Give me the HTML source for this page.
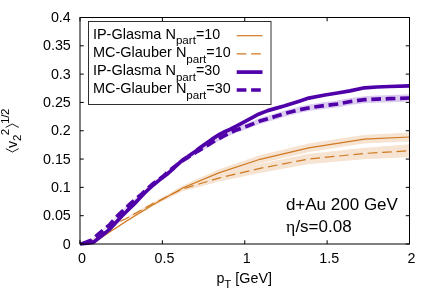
<!DOCTYPE html>
<html><head><meta charset="utf-8"><title>plot</title>
<style>
html,body{margin:0;padding:0;background:#fff;}
svg{display:block;will-change:transform;}
text{font-family:"Liberation Sans",sans-serif;font-size:14.3px;fill:#000;}
text.sym{font-family:"Liberation Serif",serif;}
</style></head>
<body>
<svg width="436" height="305" viewBox="0 0 436 305">
<rect width="436" height="305" fill="#fff"/>
<polygon points="80.00,243.80 84.00,243.38 88.00,242.96 92.00,242.54 94.50,242.28 96.00,241.13 100.00,238.05 101.00,237.29 104.00,235.22 108.00,232.47 110.80,230.54 112.00,229.76 116.00,227.16 119.00,225.22 120.00,224.54 124.00,221.80 125.80,220.56 128.00,219.15 132.00,216.59 136.00,214.03 140.00,211.46 144.00,208.90 148.00,206.33 151.70,203.95 152.00,203.78 156.00,201.41 160.00,199.04 164.00,196.67 168.00,194.30 172.00,191.93 176.00,189.56 180.00,187.19 183.20,185.29 184.00,184.94 188.00,183.14 192.00,181.35 196.00,179.56 200.00,177.77 204.00,175.98 208.00,174.19 212.00,172.40 216.00,170.61 218.75,169.39 220.00,168.96 224.00,167.58 228.00,166.21 232.00,164.83 236.00,163.46 240.00,162.08 244.00,160.70 248.00,159.33 252.00,157.95 256.00,156.58 260.00,155.20 264.00,154.24 268.00,153.28 272.00,152.32 276.00,151.36 280.00,150.40 284.00,149.44 288.00,148.48 292.00,147.52 296.00,146.56 300.00,145.60 304.00,144.64 308.00,143.68 308.75,143.50 312.00,142.99 316.00,142.37 320.00,141.74 324.00,141.12 328.00,140.50 332.00,139.87 336.00,139.25 340.00,138.62 344.00,138.00 348.00,137.37 352.00,136.75 356.00,136.13 360.00,135.50 364.00,134.88 364.50,134.80 368.00,134.63 372.00,134.43 376.00,134.24 380.00,134.04 384.00,133.85 388.00,133.65 392.00,133.46 396.00,133.26 400.00,133.06 404.00,132.87 408.00,132.67 409.50,132.60 409.50,141.40 408.00,141.47 404.00,141.64 400.00,141.82 396.00,142.00 392.00,142.18 388.00,142.36 384.00,142.53 380.00,142.71 376.00,142.89 372.00,143.07 368.00,143.25 364.50,143.40 364.00,143.48 360.00,144.10 356.00,144.73 352.00,145.35 348.00,145.97 344.00,146.60 340.00,147.22 336.00,147.85 332.00,148.47 328.00,149.10 324.00,149.72 320.00,150.34 316.00,150.97 312.00,151.59 308.75,152.10 308.00,152.28 304.00,153.20 300.00,154.13 296.00,155.06 292.00,155.98 288.00,156.91 284.00,157.84 280.00,158.77 276.00,159.69 272.00,160.62 268.00,161.55 264.00,162.47 260.00,163.40 256.00,164.66 252.00,165.92 248.00,167.18 244.00,168.45 240.00,169.71 236.00,170.97 232.00,172.23 228.00,173.49 224.00,174.75 220.00,176.02 218.75,176.41 216.00,177.48 212.00,179.02 208.00,180.56 204.00,182.10 200.00,183.64 196.00,185.18 192.00,186.72 188.00,188.26 184.00,189.80 183.20,190.11 180.00,191.83 176.00,193.98 172.00,196.13 168.00,198.28 164.00,200.43 160.00,202.58 156.00,204.73 152.00,206.89 151.70,207.05 148.00,209.24 144.00,211.62 140.00,213.99 136.00,216.37 132.00,218.75 128.00,221.13 125.80,222.44 124.00,223.58 120.00,226.14 119.00,226.78 116.00,228.64 112.00,231.12 110.80,231.86 108.00,233.71 104.00,236.34 101.00,238.31 100.00,239.05 96.00,242.01 94.50,243.12 92.00,243.30 88.00,243.60 84.00,243.90 80.00,244.20" fill="#f6e3d2"/>
<polygon points="80.00,243.80 84.00,243.07 88.00,242.35 89.00,242.16 92.00,240.07 96.00,237.29 100.00,234.50 104.00,231.66 108.00,228.82 110.80,226.84 112.00,226.00 116.00,223.21 119.00,221.12 120.00,220.63 124.00,218.65 125.80,217.76 128.00,216.49 132.00,214.17 136.00,211.86 140.00,209.54 144.00,207.22 148.00,204.90 151.70,202.75 152.00,202.60 156.00,200.51 160.00,198.42 164.00,196.33 168.00,194.24 172.00,192.15 176.00,190.06 180.00,187.97 183.20,186.29 184.00,186.03 188.00,184.71 192.00,183.39 196.00,182.07 200.00,180.76 204.00,179.44 208.00,178.12 212.00,176.80 216.00,175.48 218.75,174.58 220.00,174.25 224.00,173.20 228.00,172.15 232.00,171.10 236.00,170.05 240.00,169.00 244.00,167.95 248.00,166.90 252.00,165.85 256.00,164.80 260.00,163.75 264.00,162.94 268.00,162.13 272.00,161.32 276.00,160.51 280.00,159.71 284.00,158.90 288.00,158.09 292.00,157.28 296.00,156.47 300.00,155.66 304.00,154.85 308.00,154.04 308.75,153.89 312.00,153.53 316.00,153.09 320.00,152.65 324.00,152.21 328.00,151.77 332.00,151.33 336.00,150.89 340.00,150.45 344.00,150.01 348.00,149.56 352.00,149.12 356.00,148.68 360.00,148.24 364.00,147.80 364.50,147.74 368.00,147.48 372.00,147.18 376.00,146.88 380.00,146.57 384.00,146.27 388.00,145.97 392.00,145.67 396.00,145.37 400.00,145.07 404.00,144.76 408.00,144.46 409.50,144.35 409.50,157.15 408.00,157.22 404.00,157.40 400.00,157.57 396.00,157.75 392.00,157.93 388.00,158.11 384.00,158.29 380.00,158.47 376.00,158.64 372.00,158.82 368.00,159.00 364.50,159.16 364.00,159.20 360.00,159.56 356.00,159.91 352.00,160.27 348.00,160.62 344.00,160.98 340.00,161.33 336.00,161.69 332.00,162.04 328.00,162.40 324.00,162.75 320.00,163.11 316.00,163.46 312.00,163.82 308.75,164.11 308.00,164.24 304.00,164.97 300.00,165.69 296.00,166.42 292.00,167.15 288.00,167.87 284.00,168.60 280.00,169.32 276.00,170.05 272.00,170.77 268.00,171.50 264.00,172.22 260.00,172.95 256.00,173.79 252.00,174.63 248.00,175.47 244.00,176.31 240.00,177.15 236.00,177.99 232.00,178.83 228.00,179.68 224.00,180.52 220.00,181.36 218.75,181.62 216.00,182.36 212.00,183.42 208.00,184.49 204.00,185.56 200.00,186.63 196.00,187.69 192.00,188.76 188.00,189.83 184.00,190.89 183.20,191.11 180.00,192.60 176.00,194.47 172.00,196.35 168.00,198.22 164.00,200.09 160.00,201.96 156.00,203.83 152.00,205.71 151.70,205.85 148.00,207.81 144.00,209.94 140.00,212.07 136.00,214.20 132.00,216.33 128.00,218.46 125.80,219.64 124.00,220.44 120.00,222.23 119.00,222.69 116.00,224.69 112.00,227.36 110.80,228.16 108.00,230.06 104.00,232.78 100.00,235.50 96.00,238.17 92.00,240.83 89.00,242.84 88.00,242.99 84.00,243.59 80.00,244.20" fill="#f6e3d2"/>
<polygon points="80.00,243.70 84.00,242.52 86.00,241.92 88.00,241.11 91.10,239.86 92.00,239.10 93.75,237.62 96.00,235.65 99.25,232.80 100.00,232.17 104.00,228.79 108.00,225.37 110.05,223.61 112.00,221.36 113.90,219.16 116.00,216.82 117.80,214.81 120.00,212.64 121.70,210.96 124.00,208.81 125.70,207.21 128.00,205.06 129.60,203.56 132.00,201.43 133.60,200.01 136.00,197.78 140.00,194.41 142.50,192.30 144.00,190.82 146.40,188.45 148.00,186.98 152.00,183.29 153.30,182.09 156.00,180.21 158.00,178.81 160.00,177.24 163.60,174.41 164.00,174.04 166.40,171.81 168.00,170.47 171.90,167.21 172.00,167.13 175.80,163.99 176.00,163.85 180.00,160.92 183.70,158.21 184.00,158.02 187.60,155.74 188.00,155.46 190.00,154.09 192.00,152.81 196.00,150.23 197.50,149.26 200.00,147.73 204.00,145.28 207.75,142.98 208.00,142.81 211.70,140.31 212.00,140.14 216.00,137.86 220.00,135.58 224.00,133.31 228.00,131.33 232.00,129.35 235.00,127.86 236.00,127.48 240.00,125.99 244.00,124.49 247.50,123.18 248.00,122.98 252.00,121.35 256.00,119.73 260.00,118.10 264.00,116.87 268.00,115.65 272.00,114.42 275.00,113.51 276.00,113.20 280.00,111.95 284.00,110.71 287.50,109.63 288.00,109.50 292.00,108.45 296.00,107.40 300.00,106.35 304.00,105.56 308.00,104.76 312.00,103.98 312.50,103.88 316.00,103.40 320.00,102.84 324.00,102.28 325.00,102.14 328.00,101.77 332.00,101.27 336.00,100.78 337.50,100.59 340.00,100.12 344.00,99.36 348.00,98.60 352.00,97.84 356.00,97.32 360.00,96.79 364.00,96.26 364.50,96.20 368.00,96.01 372.00,95.80 376.00,95.60 377.00,95.54 380.00,95.43 384.00,95.29 388.00,95.14 389.50,95.09 392.00,94.99 396.00,94.83 400.00,94.67 404.00,94.52 408.00,94.36 409.50,94.30 409.50,101.70 408.00,101.75 404.00,101.87 400.00,101.99 396.00,102.11 392.00,102.24 389.50,102.31 388.00,102.35 384.00,102.46 380.00,102.57 377.00,102.66 376.00,102.70 372.00,102.88 368.00,103.05 364.50,103.20 364.00,103.26 360.00,103.76 356.00,104.26 352.00,104.76 348.00,105.49 344.00,106.22 340.00,106.95 337.50,107.41 336.00,107.58 332.00,108.05 328.00,108.51 325.00,108.86 324.00,108.99 320.00,109.52 316.00,110.05 312.50,110.52 312.00,110.61 308.00,111.36 304.00,112.11 300.00,112.85 296.00,113.85 292.00,114.85 288.00,115.85 287.50,115.97 284.00,117.01 280.00,118.20 276.00,119.40 275.00,119.69 272.00,120.58 268.00,121.75 264.00,122.92 260.00,124.10 256.00,125.61 252.00,127.12 248.00,128.63 247.50,128.82 244.00,130.03 240.00,131.41 236.00,132.80 235.00,133.14 232.00,134.55 228.00,136.42 224.00,138.29 220.00,140.44 216.00,142.59 212.00,144.73 211.70,144.89 208.00,147.26 207.75,147.42 204.00,149.58 200.00,151.89 197.50,153.34 196.00,154.25 192.00,156.69 190.00,157.91 188.00,159.20 187.60,159.46 184.00,161.62 183.70,161.79 180.00,164.38 176.00,167.17 175.80,167.31 172.00,170.31 171.90,170.39 168.00,173.51 166.40,174.79 164.00,176.93 163.60,177.29 160.00,179.99 158.00,181.49 156.00,182.82 153.30,184.61 152.00,185.76 148.00,189.33 146.40,190.75 144.00,193.06 142.50,194.50 140.00,196.55 136.00,199.82 133.60,201.99 132.00,203.37 129.60,205.44 128.00,206.89 125.70,208.99 124.00,210.54 121.70,212.64 120.00,214.27 117.80,216.39 116.00,218.35 113.90,220.64 112.00,222.78 110.05,224.99 108.00,226.69 104.00,230.01 100.00,233.28 99.25,233.90 96.00,236.66 93.75,238.58 92.00,240.01 91.10,240.74 88.00,241.92 86.00,242.68 84.00,243.22 80.00,244.30" fill="#dccdf0"/>
<polyline points="80.00,244.00 94.50,242.70 101.00,237.80 110.80,231.20 119.00,226.00 125.80,221.50 151.70,205.50 183.20,187.70 218.75,172.90 260.00,159.30 308.75,147.80 364.50,139.10 409.50,137.00" fill="none" stroke="#cf7a21" stroke-width="1.2"/>
<polyline points="80.00,244.00 89.00,242.50 100.00,235.00 110.80,227.50 119.00,221.90 125.80,218.70 151.70,204.30 183.20,188.70 218.75,178.10 260.00,168.35 308.75,159.00 364.50,153.45 409.50,150.75" fill="none" stroke="#cf7a21" stroke-width="1.2" stroke-dasharray="9.7 4.7" stroke-dashoffset="-3.8"/>
<polyline points="80.00,244.00 87.40,243.15 93.30,242.40 101.60,235.70 105.60,232.55 110.05,228.85 121.70,216.30 125.70,212.30 129.60,208.40 133.60,204.60 138.00,200.00 141.70,196.00 143.90,193.70 147.80,190.00 151.70,186.40 155.70,183.00 159.60,179.85 163.60,176.75 168.00,173.45 172.30,169.65 175.80,166.25 179.75,162.55 183.70,159.30 187.60,156.75 191.55,154.00 196.00,151.00 199.90,147.80 203.80,145.00 207.75,142.20 211.70,139.40 215.60,136.85 219.55,134.45 224.00,132.00 229.90,129.50 237.75,125.40 245.70,121.20 254.00,116.70 258.50,114.20 267.75,110.60 275.60,108.40 284.00,106.00 300.00,101.00 308.75,98.10 325.00,95.00 337.50,93.00 350.00,90.90 364.50,87.80 377.00,87.00 389.50,86.50 409.50,85.80" fill="none" stroke="#5000a8" stroke-width="3.7" stroke-linejoin="round"/>
<polyline points="80.00,244.00 86.00,242.30 91.10,240.30 93.75,238.10 99.25,233.35 104.00,229.40 110.05,224.30 113.90,219.90 117.80,215.60 121.70,211.80 125.70,208.10 129.60,204.50 133.60,201.00 136.00,198.80 142.50,193.40 146.40,189.60 153.30,183.35 158.00,180.15 163.60,175.85 166.40,173.30 171.90,168.80 175.80,165.65 183.70,160.00 187.60,157.60 190.00,156.00 197.50,151.30 207.75,145.20 211.70,142.60 224.00,135.80 235.00,130.50 247.50,126.00 260.00,121.10 275.00,116.60 287.50,112.80 300.00,109.60 312.50,107.20 325.00,105.50 337.50,104.00 352.00,101.30 364.50,99.70 377.00,99.10 389.50,98.70 409.50,98.00" fill="none" stroke="#5000a8" stroke-width="3.7" stroke-dasharray="9.7 4.7" stroke-dashoffset="-3.0"/>
<rect x="80.0" y="17.5" width="329.5" height="226.5" fill="none" stroke="#000" stroke-width="1"/>
<path d="M80.0,244.00h3.75M409.5,244.00h-3.75" stroke="#000" stroke-width="1"/>
<path d="M80.0,215.69h3.75M409.5,215.69h-3.75" stroke="#000" stroke-width="1"/>
<path d="M80.0,187.38h3.75M409.5,187.38h-3.75" stroke="#000" stroke-width="1"/>
<path d="M80.0,159.06h3.75M409.5,159.06h-3.75" stroke="#000" stroke-width="1"/>
<path d="M80.0,130.75h3.75M409.5,130.75h-3.75" stroke="#000" stroke-width="1"/>
<path d="M80.0,102.44h3.75M409.5,102.44h-3.75" stroke="#000" stroke-width="1"/>
<path d="M80.0,74.12h3.75M409.5,74.12h-3.75" stroke="#000" stroke-width="1"/>
<path d="M80.0,45.81h3.75M409.5,45.81h-3.75" stroke="#000" stroke-width="1"/>
<path d="M80.0,17.50h3.75M409.5,17.50h-3.75" stroke="#000" stroke-width="1"/>
<path d="M80.00,244.0v-3.75M80.00,17.5v3.75" stroke="#000" stroke-width="1"/>
<path d="M162.38,244.0v-3.75M162.38,17.5v3.75" stroke="#000" stroke-width="1"/>
<path d="M244.75,244.0v-3.75M244.75,17.5v3.75" stroke="#000" stroke-width="1"/>
<path d="M327.12,244.0v-3.75M327.12,17.5v3.75" stroke="#000" stroke-width="1"/>
<path d="M409.50,244.0v-3.75M409.50,17.5v3.75" stroke="#000" stroke-width="1"/>
<text x="70.8" y="248.65" text-anchor="end">0</text>
<text x="70.8" y="220.34" text-anchor="end">0.05</text>
<text x="70.8" y="192.03" text-anchor="end">0.1</text>
<text x="70.8" y="163.71" text-anchor="end">0.15</text>
<text x="70.8" y="135.40" text-anchor="end">0.2</text>
<text x="70.8" y="107.09" text-anchor="end">0.25</text>
<text x="70.8" y="78.78" text-anchor="end">0.3</text>
<text x="70.8" y="50.46" text-anchor="end">0.35</text>
<text x="70.8" y="22.15" text-anchor="end">0.4</text>
<text x="82.10" y="263.4" text-anchor="middle">0</text>
<text x="164.47" y="263.4" text-anchor="middle">0.5</text>
<text x="246.85" y="263.4" text-anchor="middle">1</text>
<text x="329.23" y="263.4" text-anchor="middle">1.5</text>
<text x="411.60" y="263.4" text-anchor="middle">2</text>
<rect x="88.5" y="21.5" width="182.5" height="83" fill="#fff" stroke="#1a1a1a" stroke-width="0.9"/>
<text x="92.9" y="38.85" style="font-size:14.5px">IP-Glasma N<tspan dy="5.6" style="font-size:11.6px">part</tspan><tspan dy="-5.6" style="font-size:14.3px">=10</tspan></text>
<text x="92.9" y="56.95" style="font-size:14.5px">MC-Glauber N<tspan dy="5.6" style="font-size:11.6px">part</tspan><tspan dy="-5.6" style="font-size:14.3px">=10</tspan></text>
<text x="92.9" y="75.05" style="font-size:14.5px">IP-Glasma N<tspan dy="5.6" style="font-size:11.6px">part</tspan><tspan dy="-5.6" style="font-size:14.3px">=30</tspan></text>
<text x="92.9" y="93.15" style="font-size:14.5px">MC-Glauber N<tspan dy="5.6" style="font-size:11.6px">part</tspan><tspan dy="-5.6" style="font-size:14.3px">=30</tspan></text>
<path d="M236.7,35.7H262.5" stroke="#cf7a21" stroke-width="1.2"/>
<path d="M236.7,53.8H262.5" stroke="#cf7a21" stroke-width="1.2" stroke-dasharray="9.7 4.7"/>
<path d="M236.7,72.1H262.5" stroke="#5000a8" stroke-width="3.7"/>
<path d="M236.7,90H262.5" stroke="#5000a8" stroke-width="3.7" stroke-dasharray="9.7 4.7"/>
<text x="285.9" y="210.05" style="font-size:17.0px">d+Au 200 GeV</text>
<text x="286.0" y="232.2" class="sym" style="font-size:17.6px">η</text><text x="295.4" y="232.2" style="font-size:17.0px">/s=0.08</text>
<text x="216.4" y="283.3">p<tspan dy="4.3" style="font-size:11.5px">T</tspan><tspan dy="-4.3"> [GeV]</tspan></text>
<g transform="translate(16.8,153.3) rotate(-90)"><path d="M4.7,-11.0L1.3,-4.4L4.7,1.9" fill="none" stroke="#111" stroke-width="0.95"/><text x="5.4" y="0">v</text><text x="12.3" y="4.0" style="font-size:11.4px">2</text><text x="18.1" y="-7.7" style="font-size:11.4px">2</text><path d="M25.9,-11.1L29.3,-4.6L25.9,2.0" fill="none" stroke="#111" stroke-width="0.95"/><text x="29.6" y="-7.8" style="font-size:11.4px;letter-spacing:-0.4px">1/2</text></g>
</svg>
</body></html>
